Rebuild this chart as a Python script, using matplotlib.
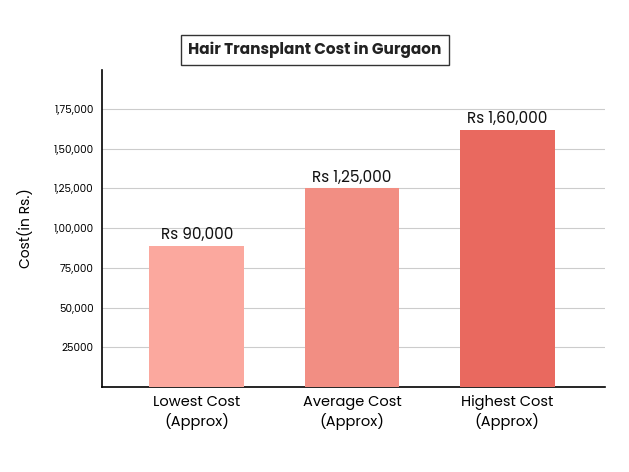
import matplotlib.pyplot as plt

categories = ["Lowest Cost\n(Approx)", "Average Cost\n(Approx)", "Highest Cost\n(Approx)"]
values = [89000, 125000, 162000]
value_labels = ["Rs 90,000", "Rs 1,25,000", "Rs 1,60,000"]
ticks = [25000, 50000, 75000, 100000, 125000, 150000, 175000]
tick_labels = ["25000", "50,000", "75,000", "1,00,000", "1,25,000", "1,50,000", "1,75,000"]
colors = ["#FBA89E", "#F28E83", "#E9695F"]

plt.rcParams['font.family'] = ['Poppins', 'Open Sans', 'DejaVu Sans']
fig = plt.figure(figsize=(6.29, 4.72), dpi=100)
ax = fig.add_axes([102 / 629, 1 - 387 / 472, 503 / 629, 317 / 472])

x = range(len(categories))
ax.bar(x, values, width=0.61, color=colors, zorder=3)
for i, (v, lab) in enumerate(zip(values, value_labels)):
    ax.text(i, v + 1500, lab, ha="center", va="bottom", fontsize=11, color="#111111")

ax.set_xlim(-0.61, 2.63)
ax.set_ylim(0, 199500)
ax.set_yticks(ticks)
ax.set_yticklabels(tick_labels, fontsize=7.5)
ax.set_xticks(list(x))
ax.set_xticklabels(categories, fontsize=10.5)
ax.tick_params(axis="both", length=0, pad=6)
ax.yaxis.grid(True, color="#cccccc", linewidth=0.8, zorder=0)
for s in ["top", "right"]:
    ax.spines[s].set_visible(False)
ax.spines["left"].set_linewidth(1.2)
ax.spines["bottom"].set_linewidth(1.2)
ax.set_ylabel("Cost(in Rs.)", fontsize=10, labelpad=14)

fig.text(315 / 629, 1 - 50 / 472, "Hair Transplant Cost in Gurgaon", ha="center", va="center",
         fontsize=11, fontweight="bold", color="#222222",
         bbox=dict(boxstyle="square,pad=0.45", facecolor="white", edgecolor="#333333", linewidth=1))

fig.savefig("out.png", dpi=100)
